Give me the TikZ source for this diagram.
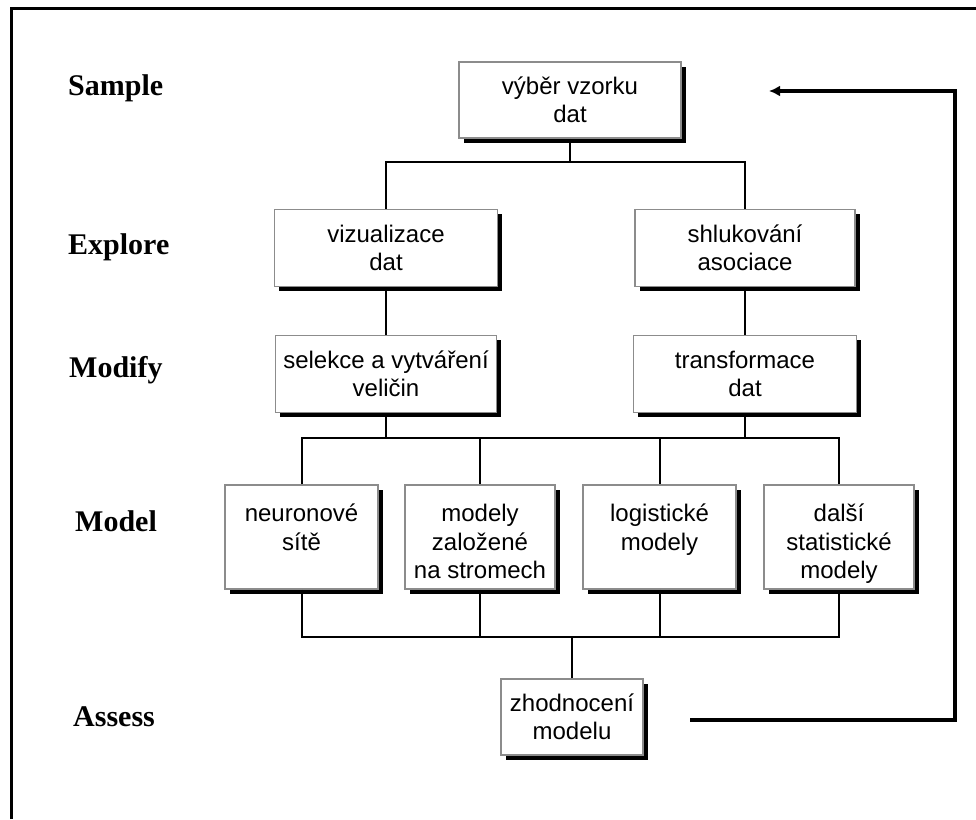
\documentclass[tikz,border=0pt]{standalone}
\usepackage{fontspec}
\setmainfont{Liberation Serif}
\setsansfont{Liberation Sans}
\usetikzlibrary{shadows,arrows.meta}
\tikzset{
  boxstyle/.style={draw=black!45, line width=1.6pt, fill=white, inner sep=0pt,
    align=center, font=\sffamily\fontsize{24}{28.5}\selectfont,
    drop shadow={shadow xshift=4.5pt, shadow yshift=-4.5pt, fill=black, opacity=1}},
  boxtext/.style={inner sep=0pt, align=center, anchor=north, font=\sffamily\fontsize{24}{28.5}\selectfont},
  lvl/.style={anchor=base west, inner sep=0pt, font=\bfseries\fontsize{30}{35}\selectfont},
  conn/.style={draw=black, line width=2pt},
  fb/.style={draw=black, line width=4pt},
  frame/.style={draw=black, line width=3pt}
}
\begin{document}
\begin{tikzpicture}[x=1pt, y=-1pt]
\useasboundingbox (0,0) rectangle (976,819);
\draw[frame] (11,819) -- (11,8) -- (976,8);

% level labels
\node[lvl] (lS) at (68,95) {Sample};
\node[lvl] (lE) at (68,254) {Explore};
\node[lvl] (lMo) at (69,377) {Modify};
\node[lvl] (lMd) at (75,531) {Model};
\node[lvl] (lA) at (73,726) {Assess};

% boxes
\node[boxstyle, minimum width=222pt, minimum height=76pt] (s) at (570,100) {výběr vzorku\\dat};
\node[boxstyle, minimum width=223pt, minimum height=77pt] (e1) at (386,248) {vizualizace\\dat};
\node[boxstyle, minimum width=220pt, minimum height=77pt] (e2) at (745,248) {shlukování\\asociace};
\node[boxstyle, minimum width=221pt, minimum height=77pt] (m1) at (386,374) {selekce a vytváření\\veličin};
\node[boxstyle, minimum width=223pt, minimum height=77pt] (m2) at (745,374) {transformace\\dat};

\node[boxstyle, minimum width=153pt, minimum height=104pt] (d1) at (301.5,537) {};
\node[boxstyle, minimum width=150pt, minimum height=104pt] (d2) at (480,537) {};
\node[boxstyle, minimum width=153pt, minimum height=104pt] (d3) at (659.5,537) {};
\node[boxstyle, minimum width=150pt, minimum height=104pt] (d4) at (839,537) {};
\node[boxtext] (t1) at (301.5,504) {neuronové\\sítě};
\node[boxtext] (t2) at (480,504) {modely\\založené\\na stromech};
\node[boxtext] (t3) at (659.5,504) {logistické\\modely};
\node[boxtext] (t4) at (839,504) {další\\statistické\\modely};

\node[boxstyle, minimum width=142pt, minimum height=76pt] (a) at (572,717) {zhodnocení\\modelu};

% connectors
\coordinate (bus0) at (0,162);
\coordinate (bus1) at (0,438);
\coordinate (bus2) at (0,637);
\draw[conn] (s.south) -- (s.south |- bus0);
\draw[conn] (e1.north) -- (e1.north |- bus0) -- (e2.north |- bus0) -- (e2.north);
\draw[conn] (e1.south) -- (m1.north);
\draw[conn] (e2.south) -- (m2.north);
\draw[conn] (d1.north) -- (d1.north |- bus1) -- (d4.north |- bus1) -- (d4.north);
\draw[conn] (d2.north) -- (d2.north |- bus1);
\draw[conn] (d3.north) -- (d3.north |- bus1);
\draw[conn] (m1.south) -- (m1.south |- bus1);
\draw[conn] (m2.south) -- (m2.south |- bus1);
\draw[conn] (d1.south) -- (d1.south |- bus2) -- (d4.south |- bus2) -- (d4.south);
\draw[conn] (d2.south) -- (d2.south |- bus2);
\draw[conn] (d3.south) -- (d3.south |- bus2);
\draw[conn] (a.north) -- (a.north |- bus2);

% feedback
\coordinate (fbs) at (690,720);
\coordinate (fbc) at (955,91);
\coordinate (fbe) at (769,91);
\draw[fb, -{Latex[length=11pt,width=11pt]}] (fbs) -| (fbc) -- (fbe);
\end{tikzpicture}
\end{document}
